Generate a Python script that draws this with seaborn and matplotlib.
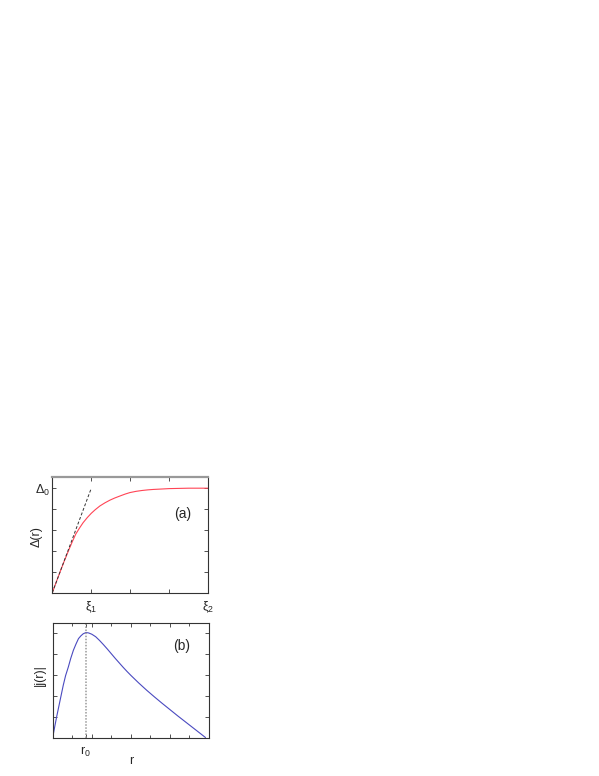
import seaborn as sns
import matplotlib.pyplot as plt
from matplotlib.ticker import MultipleLocator
import pandas as pd

# Panel (a): order parameter Delta(r)
r_a = [0, 0.1, 0.2, 0.3, 0.38, 0.44, 0.52, 0.6, 0.7, 0.79, 0.9, 1.0, 1.1, 1.22,
       1.35, 1.48, 1.6, 1.74, 1.87, 1.99, 2.15, 2.3, 2.45, 2.59, 2.8, 3.0, 3.5, 4.0]
delta_a = [0, 0.5, 1.0, 1.48, 1.85, 2.12, 2.47, 2.8, 3.1, 3.35, 3.6, 3.8, 3.97, 4.15,
           4.3, 4.43, 4.53, 4.63, 4.72, 4.79, 4.85, 4.89, 4.92, 4.94, 4.96, 4.98, 5.0, 5.0]

# linear slope at the origin (dashed)
r_tan = [0, 1.0]
tan_a = [0, 5.0]

# Panel (b): current density |j(r)|
r_b = [0, 0.05, 0.1, 0.19, 0.27, 0.33, 0.4, 0.46, 0.53, 0.6, 0.66, 0.72, 0.78, 0.85,
       0.92, 1.0, 1.1, 1.2, 1.3, 1.4, 1.5, 1.6, 1.7, 1.8, 1.9, 2.0, 2.2, 2.4, 2.6,
       2.8, 3.0, 3.2, 3.4, 3.6, 3.8, 3.91]
j_b = [0, 0.5, 0.98, 1.78, 2.49, 2.95, 3.36, 3.76, 4.16, 4.47, 4.71, 4.84, 4.94, 5.0,
       4.98, 4.92, 4.80, 4.62, 4.42, 4.21, 3.99, 3.77, 3.56, 3.35, 3.15, 2.96, 2.60,
       2.26, 1.94, 1.63, 1.33, 1.03, 0.74, 0.45, 0.16, 0.0]

r0 = 0.85
xi_labels = [r'$\xi_1$', r'$\xi_2$']

df_a = pd.DataFrame({"r": r_a, "delta": delta_a})
df_tan = pd.DataFrame({"r": r_tan, "delta": tan_a})
df_b = pd.DataFrame({"r": r_b, "j": j_b})

sns.set_style("ticks")
plt.rcParams['font.family'] = ['Liberation Sans', 'DejaVu Sans']
plt.rcParams['mathtext.default'] = 'regular'
plt.rcParams['mathtext.fontset'] = 'custom'
plt.rcParams['mathtext.rm'] = 'Liberation Sans'
plt.rcParams['mathtext.it'] = 'Liberation Sans'

fig = plt.figure(figsize=(5.99, 7.76), dpi=100)
ax1 = fig.add_axes([0.0873, 0.2362, 0.2605, 0.1487])
ax2 = fig.add_axes([0.0880, 0.0496, 0.2609, 0.1480])

# --- (a)
sns.lineplot(data=df_a, x="r", y="delta", color="#ff4455", linewidth=0.8, ax=ax1)
sns.lineplot(data=df_tan, x="r", y="delta", color="#333333", linewidth=0.7,
             linestyle=(0, (3, 2)), ax=ax1)
ax1.set_xlim(0, 4)
ax1.set_ylim(0, 5.52)
ax1.set_yticks(range(6))
ax1.set_yticklabels(['', '', '', '', '', r'$\Delta_0$'])
ax1.set_xticks(range(5))
ax1.set_xticklabels(['', xi_labels[0], '', '', xi_labels[1]])
ax1.set_xlabel("")
ax1.set_ylabel("Δ(r)", fontsize=9)
ax1.yaxis.set_label_coords(-0.06, 0.485)
ax1.text(3.35, 3.78, "(a)", fontsize=10, ha="center", va="center")

# --- (b)
sns.lineplot(data=df_b, x="r", y="j", color="#4a4ac0", linewidth=0.8, ax=ax2)
ax2.axvline(r0, color="#999999", linewidth=1.1, linestyle=(0, (1, 1)))
ax2.set_xlim(0, 4)
ax2.set_ylim(0, 5.47)
ax2.set_yticks(range(6))
ax2.set_yticklabels([''] * 6)
ax2.set_xticks([r0, 1, 2, 3])
ax2.set_xticklabels([r'$r_0$', '', '', ''])
ax2.xaxis.set_minor_locator(MultipleLocator(0.5))
ax2.set_xlabel("r", fontsize=9)
ax2.xaxis.set_label_coords(0.5, -0.15)
ax2.set_ylabel("|j(r)|", fontsize=9)
ax2.yaxis.set_label_coords(-0.046, 0.544)
ax2.text(3.31, 4.36, "(b)", fontsize=10, ha="center", va="center")

for ax in (ax1, ax2):
    ax.tick_params(which="both", direction="in", top=True, right=True,
                   labelsize=9, color="#333333")
    ax.tick_params(which="major", length=3, width=0.6)
    ax.tick_params(which="minor", length=2, width=0.6)
    ax.tick_params(axis="x", pad=5)
    ax.tick_params(axis="y", pad=1.5)
    for spine in ax.spines.values():
        spine.set_visible(True)
        spine.set_color("#333333")
        spine.set_linewidth(0.8)
ax1.spines["top"].set_color("#999999")
ax1.spines["top"].set_linewidth(1.6)

fig.savefig("out.png", dpi=100)
